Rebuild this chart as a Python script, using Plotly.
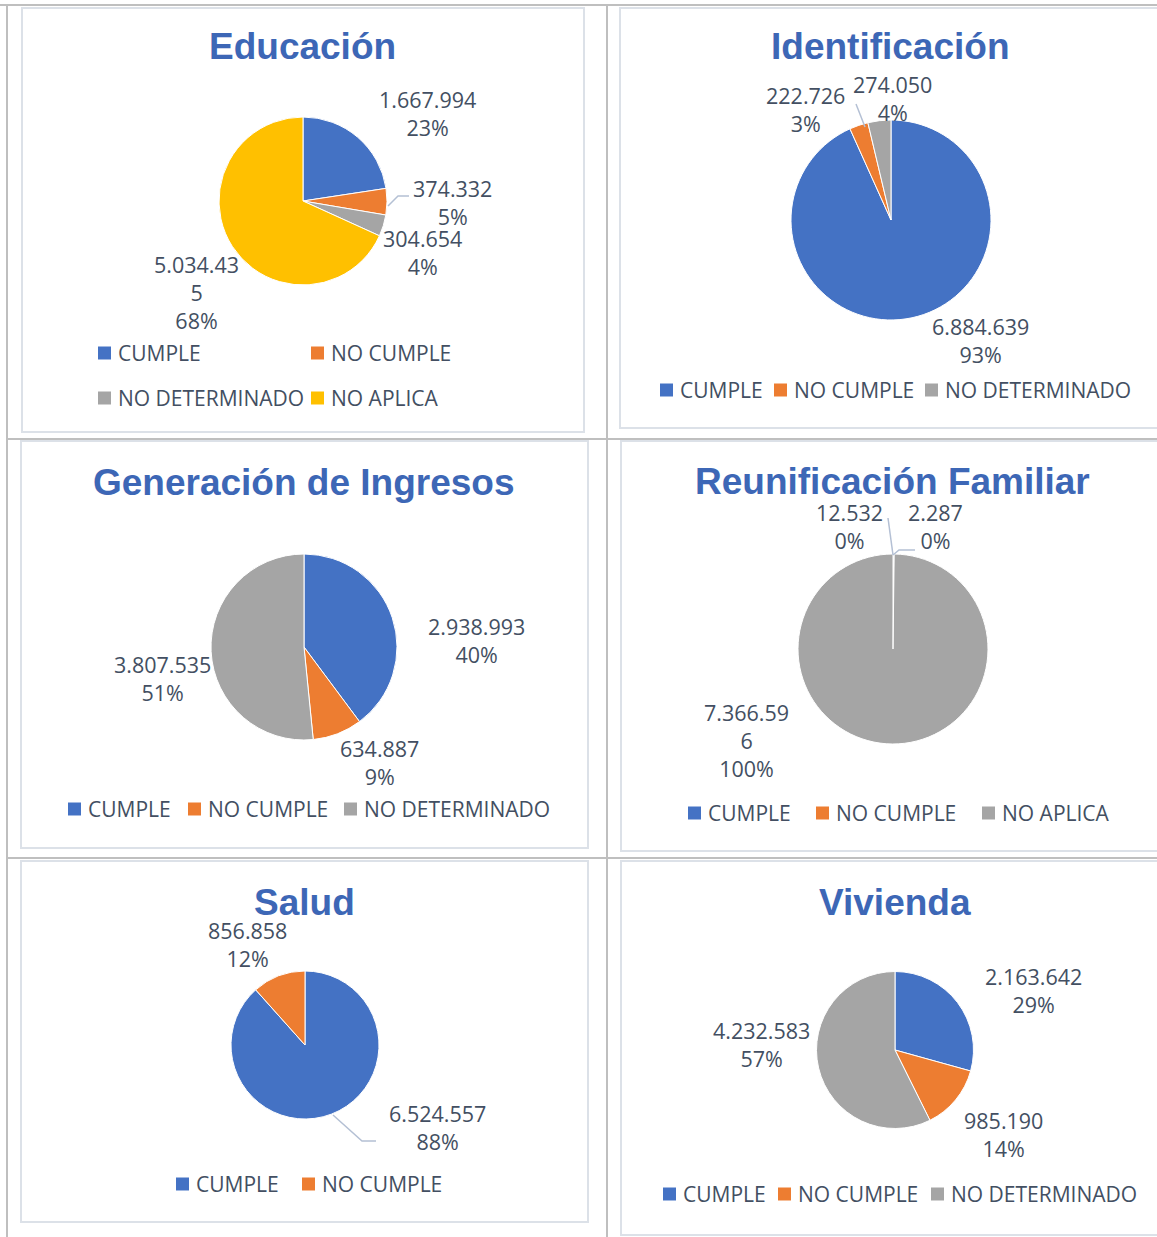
import plotly.graph_objects as go

# ---------------- DATA ----------------
titles = ["Educación", "Identificación", "Generación de Ingresos",
          "Reunificación Familiar", "Salud", "Vivienda"]

edu_labels = ["CUMPLE", "NO CUMPLE", "NO DETERMINADO", "NO APLICA"]
edu_values = [1667994, 374332, 304654, 5034435]

ide_labels = ["CUMPLE", "NO CUMPLE", "NO DETERMINADO"]
ide_values = [6884639, 222726, 274050]

gen_labels = ["CUMPLE", "NO CUMPLE", "NO DETERMINADO"]
gen_values = [2938993, 634887, 3807535]

reu_labels = ["CUMPLE", "NO CUMPLE", "NO APLICA"]
reu_values = [12532, 2287, 7366596]

sal_labels = ["CUMPLE", "NO CUMPLE"]
sal_values = [6524557, 856858]

viv_labels = ["CUMPLE", "NO CUMPLE", "NO DETERMINADO"]
viv_values = [2163642, 985190, 4232583]

label_colors = {"CUMPLE": "#4472C4", "NO CUMPLE": "#ED7D31",
                "NO DETERMINADO": "#A5A5A5", "NO APLICA": "#FFC000"}
reu_colors = {"CUMPLE": "#4472C4", "NO CUMPLE": "#ED7D31", "NO APLICA": "#A5A5A5"}

# ---------------- LAYOUT (pixels) ----------------
W, H = 1157, 1237
TITLE_COLOR = "#3D67B6"
TEXT_COLOR = "#434F62"
LEADER_COLOR = "#B4C0D4"
LABEL_FONT = "Open Sans, Noto Sans, sans-serif"
TITLE_FONT = "Liberation Sans, Arial, sans-serif"


def px(x):
    return x / W


def py(y):
    return 1 - y / H


panels = [
    dict(labels=edu_labels, values=edu_values, colors=label_colors,
         title_xy=(302, 47), center=(303, 201), r=84,
         label_xy=[(427, 113), (452, 202), (422, 252), (196, 293)],
         wrap=[None, None, None, 7],
         legend=[(98, 353), (311, 353), (98, 398), (311, 398)],
         leaders=[[(388, 206), (398, 196), (409, 196)]]),
    dict(labels=ide_labels, values=ide_values, colors=label_colors,
         title_xy=(890, 47), center=(891, 220), r=100,
         label_xy=[(980, 341), (805, 109), (892, 98)],
         wrap=[None, None, None],
         legend=[(660, 390), (774, 390), (925, 390)],
         leaders=[[(856, 104), (865, 127)]]),
    dict(labels=gen_labels, values=gen_values, colors=label_colors,
         title_xy=(304, 482), center=(304, 647), r=93,
         label_xy=[(476, 640), (379, 762), (163, 678)],
         wrap=[None, None, None],
         legend=[(68, 809), (188, 809), (344, 809)],
         leaders=[]),
    dict(labels=reu_labels, values=reu_values, colors=reu_colors,
         title_xy=(892, 481), center=(893, 649), r=95,
         label_xy=[(849, 527), (935, 527), (746, 740)],
         wrap=[None, None, 7],
         legend=[(688, 813), (816, 813), (982, 813)],
         leaders=[[(888, 518), (893, 555)], [(893, 555), (899, 550), (915, 550)]]),
    dict(labels=sal_labels, values=sal_values, colors=label_colors,
         title_xy=(304, 902), center=(305, 1045), r=74,
         label_xy=[(437, 1127), (247, 944)],
         wrap=[None, None],
         legend=[(176, 1184), (302, 1184)],
         leaders=[[(333, 1115), (362, 1141), (376, 1141)]]),
    dict(labels=viv_labels, values=viv_values, colors=label_colors,
         title_xy=(895, 902), center=(895, 1050), r=78.5,
         label_xy=[(1033, 990), (1003, 1134), (761, 1044)],
         wrap=[None, None, None],
         legend=[(663, 1194), (778, 1194), (931, 1194)],
         leaders=[]),
]

# table grid lines and chart frames (pixels)
grid_lines = [((0, 5), (1157, 5)), ((7, 5), (7, 1237)), ((607, 5), (607, 1237)),
              ((7, 439), (1157, 439)), ((7, 858), (1157, 858))]
frames = [(22, 8, 584, 432), (620, 8, 1175, 428),
          (21, 441, 588, 848), (621, 441, 1175, 851),
          (21, 861, 588, 1222), (621, 861, 1175, 1235)]


def fmt_value(v):
    return f"{v:,}".replace(",", ".")


def excel_percents(values):
    total = sum(values)
    raw = [v * 100 / total for v in values]
    floors = [int(x) for x in raw]
    rest = 100 - sum(floors)
    order = sorted(range(len(values)), key=lambda i: raw[i] - floors[i], reverse=True)
    for i in order[:rest]:
        floors[i] += 1
    return floors


fig = go.Figure()
annotations = []
shapes = []

for (x0, y0), (x1, y1) in grid_lines:
    shapes.append(dict(type="line", xref="paper", yref="paper",
                       x0=px(x0), y0=py(y0), x1=px(x1), y1=py(y1),
                       line=dict(color="#BFBFBF", width=2)))
for x0, y0, x1, y1 in frames:
    shapes.append(dict(type="rect", xref="paper", yref="paper",
                       x0=px(x0), y0=py(y0), x1=px(x1), y1=py(y1),
                       line=dict(color="#DCE1E8", width=2)))

for k, p in enumerate(panels):
    cx, cy = p["center"]
    r = p["r"]
    cols = [p["colors"][l] for l in p["labels"]]
    fig.add_trace(go.Pie(
        labels=p["labels"], values=p["values"],
        marker=dict(colors=cols, line=dict(color="white", width=1)),
        direction="clockwise", sort=False, rotation=0,
        textinfo="none", showlegend=False,
        hovertemplate="%{label}<br>%{value:,}<br>%{percent}<extra></extra>",
        domain=dict(x=[px(cx - r), px(cx + r)], y=[py(cy + r), py(cy - r)]),
        name=titles[k]))

    annotations.append(dict(text=titles[k], xref="paper", yref="paper",
                            x=px(p["title_xy"][0]), y=py(p["title_xy"][1]),
                            xanchor="center", yanchor="middle", showarrow=False,
                            font=dict(family=TITLE_FONT, size=37, color=TITLE_COLOR,
                                      weight="bold")))

    pcts = excel_percents(p["values"])
    for v, pc, (lx, ly), wrap in zip(p["values"], pcts, p["label_xy"], p["wrap"]):
        s = fmt_value(v)
        if wrap and len(s) > wrap:
            s = s[:wrap + 1] + "<br>" + s[wrap + 1:]
        annotations.append(dict(text=f"{s}<br>{pc}%", xref="paper", yref="paper",
                                x=px(lx), y=py(ly), xanchor="center", yanchor="middle",
                                align="center", showarrow=False,
                                font=dict(family=LABEL_FONT, size=21.5, color=TEXT_COLOR)))

    for lab, (lx, ly) in zip(p["labels"], p["legend"]):
        shapes.append(dict(type="rect", xref="paper", yref="paper",
                           x0=px(lx), x1=px(lx + 13), y0=py(ly - 6.5), y1=py(ly + 6.5),
                           fillcolor=p["colors"][lab], line=dict(width=0)))
        annotations.append(dict(text=lab, xref="paper", yref="paper",
                                x=px(lx + 18), y=py(ly), xanchor="left", yanchor="middle",
                                showarrow=False,
                                font=dict(family=LABEL_FONT, size=21, color=TEXT_COLOR)))

    for pts in p["leaders"]:
        path = "M " + " L ".join(f"{px(a)},{py(b)}" for a, b in pts)
        shapes.append(dict(type="path", xref="paper", yref="paper", path=path,
                           line=dict(color=LEADER_COLOR, width=1.5)))

fig.update_layout(width=W, height=H, margin=dict(l=0, r=0, t=0, b=0),
                  paper_bgcolor="white", plot_bgcolor="white",
                  annotations=annotations, shapes=shapes, showlegend=False)

fig.write_html("out.html", config={"displayModeBar": False},
               post_script="document.body.style.margin='0';document.body.style.overflow='hidden';")
